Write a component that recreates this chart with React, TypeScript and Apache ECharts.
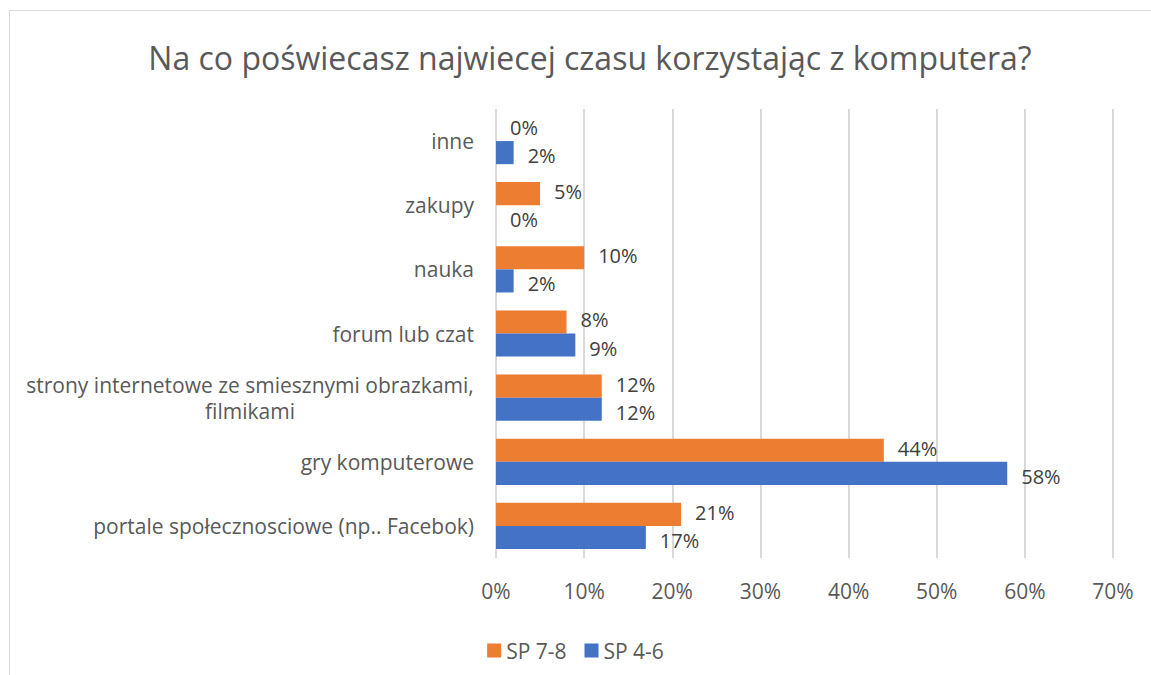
import React, { useEffect, useRef } from "react";
import * as echarts from "echarts";

const categories = [
  "portale społecznosciowe (np.. Facebok)",
  "gry komputerowe",
  "strony internetowe ze smiesznymi obrazkami,\nfilmikami",
  "forum lub czat",
  "nauka",
  "zakupy",
  "inne",
];
const sp78 = [21, 44, 12, 8, 10, 5, 0];
const sp46 = [17, 58, 12, 9, 2, 0, 2];
const xTicks = [0, 10, 20, 30, 40, 50, 60, 70];

const FONT = "Open Sans";

export default function App() {
  const ref = useRef<HTMLDivElement>(null);
  useEffect(() => {
    const chart = echarts.init(ref.current!, null, { renderer: "svg" });
    const labelStyle = (dy: number) => ({
      show: true,
      position: "right",
      distance: 14,
      offset: [0, dy],
      formatter: "{c}%",
      color: "#404040",
      fontSize: 20,
      lineHeight: 20,
      fontFamily: FONT,
    });
    chart.setOption({
      animation: false,
      backgroundColor: "#ffffff",
      title: {
        text: "Na co poświecasz najwiecej czasu korzystając z komputera?",
        left: 585,
        top: 36,
        textAlign: "center",
        textStyle: { fontSize: 32, fontWeight: "normal", color: "#595959", fontFamily: FONT },
      },
      graphic: [
        {
          type: "rect",
          shape: { x: 9.5, y: 10.5, width: 1200, height: 700 },
          style: { fill: "none", stroke: "#d9d9d9", lineWidth: 1 },
          silent: true,
        },
      ],
      legend: {
        data: ["SP 7-8", "SP 4-6"],
        left: "center",
        top: 635,
        itemWidth: 14,
        itemHeight: 14,
        itemGap: 18,
        icon: "rect",
        textStyle: { fontSize: 21, color: "#595959", fontFamily: FONT },
      },
      grid: { left: 496, right: 38, top: 109, bottom: 117, containLabel: false },
      xAxis: {
        type: "value",
        min: xTicks[0],
        max: xTicks[xTicks.length - 1],
        interval: 10,
        axisLine: { show: false },
        axisTick: { show: false },
        splitLine: { lineStyle: { color: "#d9d9d9", width: 2 } },
        axisLabel: {
          formatter: "{value}%",
          fontSize: 21,
          color: "#595959",
          fontFamily: FONT,
          margin: 22,
        },
      },
      yAxis: {
        type: "category",
        data: categories,
        axisLine: { show: false },
        axisTick: { show: false },
        axisLabel: {
          fontSize: 21,
          color: "#595959",
          fontFamily: FONT,
          margin: 22,
          lineHeight: 26,
          formatter: (v: string) =>
            v.indexOf("\n") >= 0 ? "{c|" + v.split("\n").join("}\n{c|") + "}" : v,
          rich: {
            c: { width: 448, align: "center", fontSize: 21, color: "#595959", fontFamily: FONT, lineHeight: 26 },
          },
        },
      },
      series: [
        {
          name: "SP 7-8",
          type: "bar",
          data: sp78,
          itemStyle: { color: "#ED7D31" },
          barGap: "0%",
          barCategoryGap: "28%",
          label: labelStyle(-2),
        },
        {
          name: "SP 4-6",
          type: "bar",
          data: sp46,
          itemStyle: { color: "#4472C4" },
          barGap: "0%",
          barCategoryGap: "28%",
          label: labelStyle(3),
        },
      ],
    });
    return () => chart.dispose();
  }, []);
  return (
    <div
      ref={ref}
      style={{ position: "absolute", left: 0, top: 0, width: 1151, height: 675 }}
    />
  );
}
